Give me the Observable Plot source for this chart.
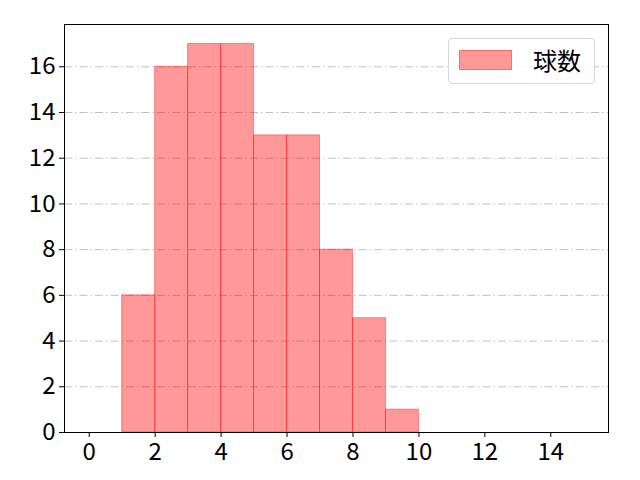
<!DOCTYPE html>
<html><head><meta charset="utf-8">
<script src="https://cdn.jsdelivr.net/npm/d3@7"></script>
<script src="https://cdn.jsdelivr.net/npm/@observablehq/plot@0.6"></script>
<style>
body{margin:0;background:#fff;font-family:"Noto Sans CJK JP","Noto Sans",sans-serif;}
#wrap{position:relative;width:640px;height:480px;}
#legend{position:absolute;left:448px;top:38px;width:147px;height:46px;box-sizing:border-box;border:1px solid #d6d6d6;border-radius:4px;background:rgba(255,255,255,0.8);}
#legend .sw{position:absolute;left:10px;top:11px;width:53px;height:20px;background:rgba(255,0,0,0.4);border:1px solid rgba(255,0,0,0.3);box-sizing:border-box;}
#legend .lb{position:absolute;left:84px;top:7px;font-size:24px;line-height:28px;color:#000;font-weight:400;}
</style></head>
<body><div id="wrap"><div id="legend"><div class="sw"></div><div class="lb"></div></div></div>
<script>
const binStart = [0,1,2,3,4,5,6,7,8,9,10,11,12,13,14];
const binEnd   = [1,2,3,4,5,6,7,8,9,10,11,12,13,14,15];
const counts   = [0,6,16,17,17,13,13,8,5,1,0,0,0,0,0];
const seriesName = "球数";
const xTicks = [0,2,4,6,8,10,12,14];
const yTicks = [0,2,4,6,8,10,12,14,16];

const bins = binStart.map((s,i)=>({x1:s,x2:binEnd[i],y:counts[i]}));

const chart = Plot.plot({
  width:640, height:480,
  marginLeft:64, marginRight:32, marginTop:24, marginBottom:48,
  style:{fontFamily:'"Noto Sans CJK JP","Noto Sans",sans-serif', fontSize:"24px", fontWeight:400, color:"#000", background:"#fff"},
  x:{domain:[-0.75,15.75]},
  y:{domain:[0,17.85]},
  marks:[
    Plot.ruleY(yTicks.slice(1),{stroke:"#b0b0b0",strokeWidth:0.8,strokeDasharray:"8,3,1.5,3"}),
    Plot.rectY(bins,{x1:"x1",x2:"x2",y:"y",fill:"red",fillOpacity:0.4,stroke:"red",strokeOpacity:0.4,strokeWidth:1,insetLeft:0,insetRight:0}),
    Plot.axisX({ticks:xTicks,tickSize:5,tickPadding:5,label:null,fontSize:24,tickFormat:d=>String(d)}),
    Plot.axisY({ticks:yTicks,tickSize:5,tickPadding:4,label:null,fontSize:24,tickFormat:d=>String(d)}),
    Plot.frame({stroke:"#000",strokeWidth:1})
  ]
});
document.getElementById("wrap").prepend(chart);
document.querySelector("#legend .lb").textContent = seriesName;
</script></body></html>
